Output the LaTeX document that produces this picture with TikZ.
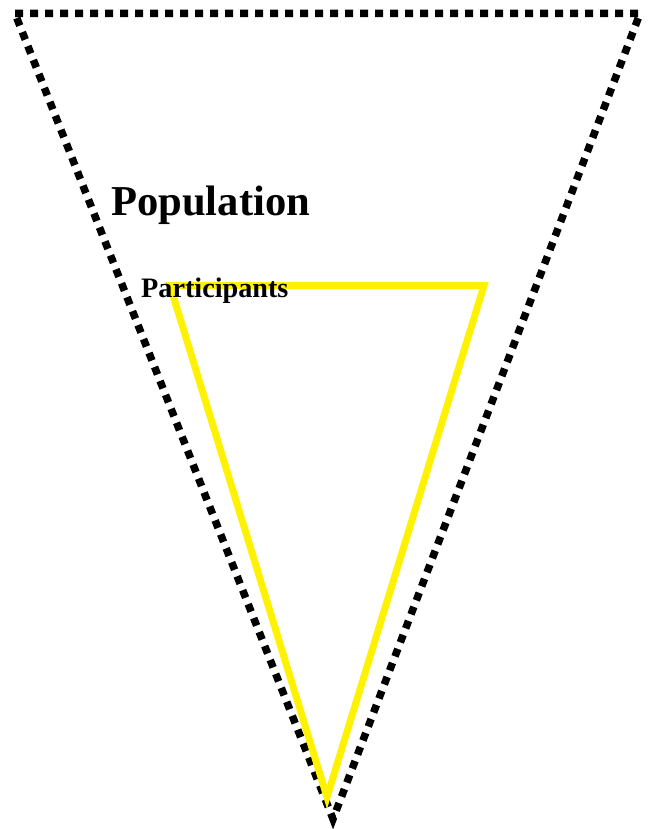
\documentclass[tikz,border=0pt]{standalone}
\usepackage{fontspec}
\setmainfont{Liberation Serif}

\begin{document}
\begin{tikzpicture}[x=1pt,y=-1pt,line join=miter]
  \useasboundingbox (0,0) rectangle (652,829);
  \coordinate (PA) at (15,13.5);
  \coordinate (PB) at (640,13.5);
  \coordinate (PC) at (333,819);
  \coordinate (SA) at (170,285.5);
  \coordinate (SB) at (484,285.5);
  \coordinate (SC) at (327,797);
  \draw[line width=7.5pt,dash pattern=on 8pt off 7pt] (PA) -- (PB) -- (PC) -- cycle;
  \draw[line width=7pt,yellow] (SA) -- (SB) -- (SC) -- cycle;
  \node[anchor=base west,inner sep=0pt,font=\bfseries\fontsize{42.6}{48}\selectfont] (pop) at (111,215) {Population};
  \node[anchor=base west,inner sep=0pt,font=\bfseries\fontsize{28.2}{32}\selectfont] (part) at (141,297) {Participants};
\end{tikzpicture}
\end{document}
